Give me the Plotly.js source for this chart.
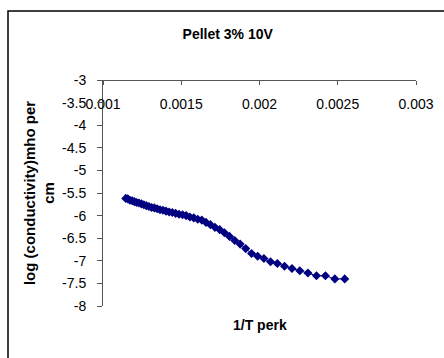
<!DOCTYPE html>
<html>
<head>
<meta charset="utf-8">
<script src="https://cdn.plot.ly/plotly-3.0.1.min.js"></script>
<style>html,body{margin:0;padding:0;background:#fff;}#chart{width:444px;height:358px;}</style>
</head>
<body>
<div id="chart"></div>
<script>
// 1/T (per K)
const invT = [0.0011455,0.0011587,0.0011723,0.0011862,0.0012005,0.0012151,0.0012300,0.0012453,0.0012610,0.0012771,
  0.0012937,0.0013106,0.0013280,0.0013459,0.0013643,0.0013831,0.0014025,0.0014225,0.0014430,0.0014641,
  0.0014859,0.0015083,0.0015314,0.0015552,0.0015798,0.0016051,0.0016313,0.0016584,0.0016863,0.0017153,
  0.0017452,0.0017762,0.0018083,0.0018416,0.0018762,0.0019120,0.0019493,0.0019881,0.0020284,0.0020704,
  0.0021142,0.0021598,0.0022075,0.0022573,0.0023095,0.0023641,0.0024213,0.0024814,0.0025445];
// log(conductivity)
const logCond = [-5.62,-5.63,-5.66,-5.67,-5.69,-5.71,-5.72,-5.74,-5.76,-5.78,
  -5.80,-5.82,-5.83,-5.85,-5.87,-5.88,-5.90,-5.92,-5.93,-5.95,
  -5.97,-5.98,-6.00,-6.03,-6.05,-6.08,-6.10,-6.15,-6.20,-6.26,
  -6.31,-6.38,-6.46,-6.55,-6.63,-6.73,-6.84,-6.90,-6.95,-7.02,
  -7.06,-7.12,-7.17,-7.22,-7.27,-7.33,-7.33,-7.40,-7.40];
const xTickVals = [0.001,0.0015,0.002,0.0025,0.003];
const xTickText = ['0.001','0.0015','0.002','0.0025','0.003'];
const yTickVals = [-8,-7.5,-7,-6.5,-6,-5.5,-5,-4.5,-4,-3.5,-3];
const yTickText = ['-8','-7.5','-7','-6.5','-6','-5.5','-5','-4.5','-4','-3.5','-3'];
const xTitle = '1/T perk';
const yTitle = 'log (conductivity)mho per<br>cm';
const chartTitle = 'Pellet 3% 10V';

const FONT = 'Liberation Sans, Arial, sans-serif';
const L = 103, R = 28, T = 80, B = 52, W = 444, H = 358;
const pw = W - L - R, ph = H - T - B;
const px = v => (v - L) / pw;
const py = v => (H - B - v) / ph;

const trace = {
  x: invT, y: logCond, type: 'scatter', mode: 'lines+markers',
  line: {color: '#000080', width: 1},
  marker: {symbol: 'diamond', size: 7, color: '#000080'},
  hoverinfo: 'skip', showlegend: false
};

const layout = {
  width: W, height: H,
  margin: {l: L, r: R, t: T, b: B, pad: 0},
  paper_bgcolor: '#fff', plot_bgcolor: '#fff',
  font: {family: FONT, size: 14, color: '#000'},
  showlegend: false,
  title: {text: '<b>' + chartTitle + '</b>', font: {family: FONT, size: 14, color: '#000'},
    xref: 'container', yref: 'container', x: 227.7 / W, y: 1 - 34 / H, xanchor: 'center', yanchor: 'middle'},
  xaxis: {
    range: [0.001, 0.003], anchor: 'free', position: 1, side: 'bottom',
    tickvals: xTickVals, ticktext: xTickText, ticks: 'outside', ticklen: 4, tickcolor: '#555',
    showline: true, linecolor: '#555', linewidth: 1, showgrid: false, zeroline: false,
    tickfont: {family: FONT, size: 14, color: '#000'}, ticklabelstandoff: 7
  },
  yaxis: {
    range: [-8, -3], tickvals: yTickVals, ticktext: yTickText,
    ticks: 'outside', ticklen: 5, tickcolor: '#555',
    showline: true, linecolor: '#555', linewidth: 1, showgrid: false, zeroline: false,
    tickfont: {family: FONT, size: 14, color: '#000'}, ticklabelstandoff: 8,
    title: {text: '<b>' + yTitle + '</b>', font: {family: FONT, size: 15, color: '#000'}, standoff: 3}
  },
  annotations: [{
    text: '<b>' + xTitle + '</b>', xref: 'paper', yref: 'paper',
    x: 0.5, y: py(325), xanchor: 'center', yanchor: 'middle', showarrow: false,
    font: {family: FONT, size: 14, color: '#000'}
  }],
  shapes: [{
    type: 'rect', xref: 'paper', yref: 'paper',
    x0: px(8), x1: px(452), y0: py(366), y1: py(11),
    line: {color: '#000', width: 1.5}, fillcolor: 'rgba(0,0,0,0)', layer: 'above'
  }]
};

Plotly.newPlot('chart', [trace], layout, {staticPlot: true, displayModeBar: false});
</script>
</body>
</html>
